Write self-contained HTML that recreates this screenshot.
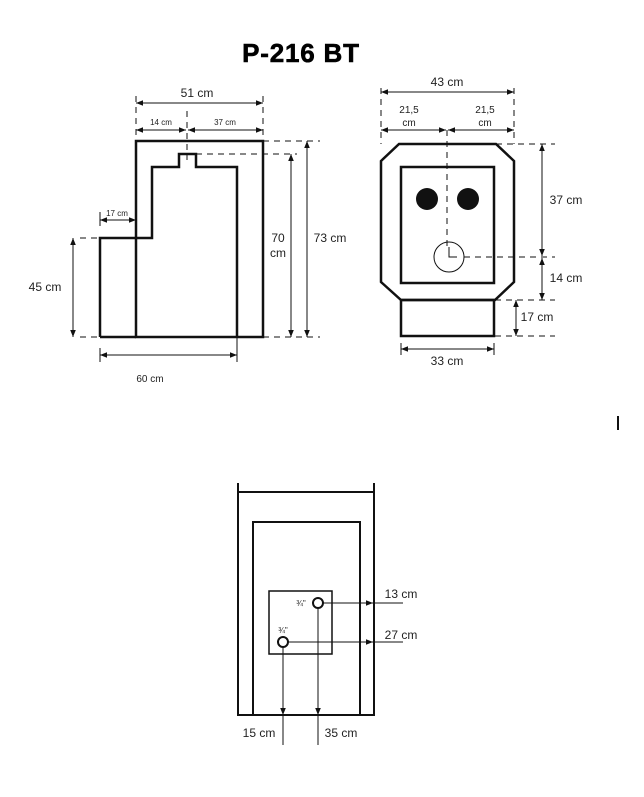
<!DOCTYPE html>
<html><head><meta charset="utf-8"><style>
html,body{margin:0;padding:0;background:#fff;}
svg{display:block;font-family:"Liberation Sans",sans-serif;}
</style></head><body>
<svg width="644" height="797" viewBox="0 0 644 797" xmlns="http://www.w3.org/2000/svg">
<defs>
<marker id="a" viewBox="0 0 10 10" refX="10" refY="5" markerWidth="7" markerHeight="7" orient="auto-start-reverse"><path d="M0,1 L10,5 L0,9 z" fill="#111"/></marker>
</defs>
<text x="301" y="62" font-size="26" font-weight="bold" letter-spacing="0.8" text-anchor="middle" fill="#000" stroke="#000" stroke-width="0.6">P-216 BT</text>

<!-- LEFT -->
<g fill="none" stroke="#111" stroke-width="2.5">
<rect x="136" y="141" width="127" height="196"/>
<polyline points="100,337 100,238 152,238 152,167 179,167 179,154 196,154 196,167 237,167 237,337"/>
<line x1="100" y1="337" x2="136" y2="337"/>
</g>
<g stroke="#111" stroke-width="1" fill="none" stroke-dasharray="6,5">
<line x1="136" y1="96" x2="136" y2="136"/><line x1="263" y1="96" x2="263" y2="136"/>
<line x1="187" y1="111" x2="187" y2="160"/>
<line x1="263" y1="141" x2="320" y2="141"/><line x1="196" y1="154" x2="297" y2="154"/>
<line x1="263" y1="337" x2="320" y2="337"/><line x1="80" y1="337" x2="100" y2="337"/>
<line x1="80" y1="238" x2="100" y2="238"/>
</g>
<g stroke="#111" stroke-width="1">
<line x1="136" y1="103" x2="263" y2="103" marker-start="url(#a)" marker-end="url(#a)"/>
<line x1="136" y1="130" x2="186" y2="130" marker-start="url(#a)" marker-end="url(#a)"/>
<line x1="188" y1="130" x2="263" y2="130" marker-start="url(#a)" marker-end="url(#a)"/>
<line x1="100" y1="220" x2="136" y2="220" marker-start="url(#a)" marker-end="url(#a)"/>
<line x1="100" y1="212" x2="100" y2="226"/>
<line x1="73" y1="238" x2="73" y2="337" marker-start="url(#a)" marker-end="url(#a)"/>
<line x1="291" y1="154" x2="291" y2="337" marker-start="url(#a)" marker-end="url(#a)"/>
<line x1="307" y1="141" x2="307" y2="337" marker-start="url(#a)" marker-end="url(#a)"/>
<line x1="100" y1="355" x2="237" y2="355" marker-start="url(#a)" marker-end="url(#a)"/>
<line x1="100" y1="348" x2="100" y2="362"/><line x1="237" y1="337" x2="237" y2="362"/>
</g>
<g font-size="12" fill="#222" text-anchor="middle">
<text x="197" y="97">51 cm</text>
<text x="161" y="125" font-size="8">14 cm</text>
<text x="225" y="125" font-size="8">37 cm</text>
<text x="117" y="216" font-size="8">17 cm</text>
<text x="45" y="291">45 cm</text>
<text x="278" y="242">70</text><text x="278" y="257">cm</text>
<text x="330" y="242">73 cm</text>
<text x="150" y="382" font-size="10">60 cm</text>
</g>

<!-- RIGHT -->
<g fill="none" stroke="#111" stroke-width="2.5">
<polygon points="399,144 496,144 514,161 514,282 495,300 401,300 381,282 381,161"/>
<rect x="401" y="167" width="93" height="116"/>
<rect x="401" y="300" width="93" height="36"/>
</g>
<circle cx="427" cy="199" r="11" fill="#111"/>
<circle cx="468" cy="199" r="11" fill="#111"/>
<circle cx="449" cy="257" r="15" fill="none" stroke="#111" stroke-width="1"/>
<path d="M449,247 L449,257 L457,257" fill="none" stroke="#111" stroke-width="1"/>
<g stroke="#111" stroke-width="1" fill="none" stroke-dasharray="6,5">
<line x1="381" y1="88" x2="381" y2="144"/><line x1="514" y1="88" x2="514" y2="144"/>
<line x1="447" y1="130" x2="447" y2="250"/>
<line x1="496" y1="144" x2="555" y2="144"/>
<line x1="464" y1="257" x2="555" y2="257"/>
<line x1="495" y1="300" x2="555" y2="300"/>
<line x1="495" y1="336" x2="555" y2="336"/>
</g>
<g stroke="#111" stroke-width="1">
<line x1="381" y1="92" x2="514" y2="92" marker-start="url(#a)" marker-end="url(#a)"/>
<line x1="381" y1="130" x2="446" y2="130" marker-start="url(#a)" marker-end="url(#a)"/>
<line x1="448" y1="130" x2="514" y2="130" marker-start="url(#a)" marker-end="url(#a)"/>
<line x1="542" y1="144" x2="542" y2="256" marker-start="url(#a)" marker-end="url(#a)"/>
<line x1="542" y1="258" x2="542" y2="300" marker-start="url(#a)" marker-end="url(#a)"/>
<line x1="516" y1="300" x2="516" y2="336" marker-start="url(#a)" marker-end="url(#a)"/>
<line x1="401" y1="349" x2="494" y2="349" marker-start="url(#a)" marker-end="url(#a)"/>
<line x1="401" y1="343" x2="401" y2="355"/><line x1="494" y1="343" x2="494" y2="355"/>
</g>
<g font-size="12" fill="#222" text-anchor="middle">
<text x="447" y="86">43 cm</text>
<text x="409" y="113" font-size="10">21,5</text><text x="409" y="126" font-size="10">cm</text>
<text x="485" y="113" font-size="10">21,5</text><text x="485" y="126" font-size="10">cm</text>
<text x="566" y="204">37 cm</text>
<text x="566" y="282">14 cm</text>
<text x="537" y="321">17 cm</text>
<text x="447" y="365">33 cm</text>
</g>

<rect x="617" y="416" width="2" height="14" fill="#111"/>

<!-- BOTTOM -->
<g fill="none" stroke="#111" stroke-width="2">
<polyline points="238,483 238,715 374,715 374,483"/>
<line x1="238" y1="492" x2="374" y2="492"/>
<polyline points="253,715 253,522 360,522 360,715"/>
<rect x="269" y="591" width="63" height="63" stroke-width="1.5"/>
<circle cx="318" cy="603" r="5"/>
<circle cx="283" cy="642" r="5"/>
</g>
<g stroke="#111" stroke-width="1">
<line x1="323" y1="603" x2="373" y2="603" marker-end="url(#a)"/>
<line x1="373" y1="603" x2="403" y2="603"/>
<line x1="288" y1="642" x2="373" y2="642" marker-end="url(#a)"/>
<line x1="373" y1="642" x2="403" y2="642"/>
<line x1="283" y1="647" x2="283" y2="715" marker-end="url(#a)"/>
<line x1="283" y1="715" x2="283" y2="745"/>
<line x1="318" y1="608" x2="318" y2="715" marker-end="url(#a)"/>
<line x1="318" y1="715" x2="318" y2="745"/>
</g>
<g font-size="12" fill="#222" text-anchor="middle">
<text x="401" y="598">13 cm</text>
<text x="401" y="639">27 cm</text>
<text x="259" y="737">15 cm</text>
<text x="341" y="737">35 cm</text>
<text x="301" y="606" font-size="8">¾"</text>
<text x="283" y="633" font-size="8">¾"</text>
</g>
</svg>
</body></html>
